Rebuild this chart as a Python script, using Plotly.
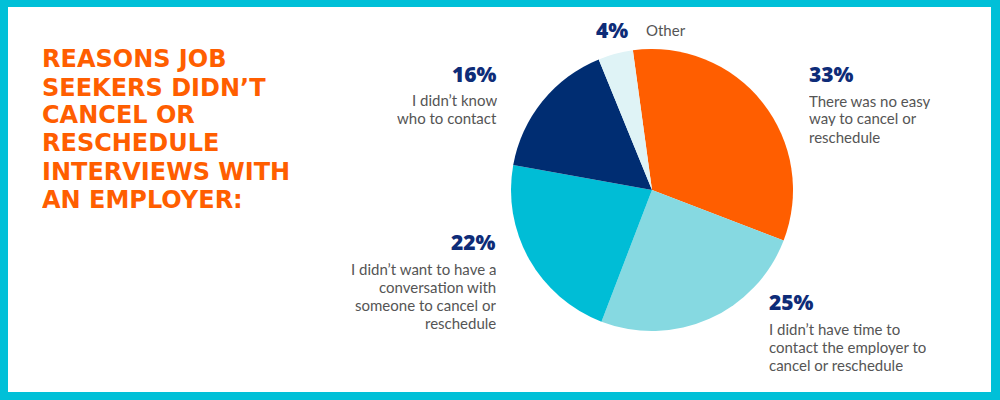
import plotly.graph_objects as go

# ---- data ----
labels = ["There was no easy way to cancel or reschedule",
          "I didn't have time to contact the employer to cancel or reschedule",
          "I didn't want to have a conversation with someone to cancel or reschedule",
          "I didn't know who to contact",
          "Other"]
values = [33, 25, 22, 16, 4]
pct_labels = ["33%", "25%", "22%", "16%", "4%"]
desc_lines = [
    ["There was no easy", "way to cancel or", "reschedule"],
    ["I didn\u2019t have time to", "contact the employer to", "cancel or reschedule"],
    ["I didn\u2019t want to have a", "conversation with", "someone to cancel or", "reschedule"],
    ["I didn\u2019t know", "who to contact"],
    ["Other"],
]
colors = ["#FF5E00", "#86D9E1", "#00BDD6", "#002D72", "#DFF3F6"]
title_lines = ["REASONS JOB", "SEEKERS DIDN\u2019T", "CANCEL OR", "RESCHEDULE",
               "INTERVIEWS WITH", "AN EMPLOYER:"]

W, H = 1000, 400
def px(x): return x / W
def py(y): return 1 - y / H

NAVY = "#0E2C78"
GRAY = "#555555"
ORANGE = "#FF5E00"
BORDER = "#00C0D8"

fig = go.Figure()
fig.add_trace(go.Pie(
    labels=labels, values=values, sort=False, direction="clockwise",
    rotation=-7.8, textinfo="none", hoverinfo="skip",
    marker=dict(colors=colors, line=dict(width=0)),
    domain=dict(x=[px(511), px(793)], y=[py(331), py(49)]),
    showlegend=False,
))

ann = []
# title
for i, t in enumerate(title_lines):
    ann.append(dict(x=px(40), y=py(59 + 28 * i), xanchor="left", yanchor="middle",
                    text=t, showarrow=False, height=27,
                    font=dict(family="DejaVu Sans", size=24, color=ORANGE, weight="bold")))

# label blocks: (pct x, pct y center, anchor, desc first line y)
blocks = [
    (807, 74, "left", 100),
    (767, 302, "left", 328),
    (498, 242, "right", 268),
    (499, 74, "right", 99),
]
for k, (x, y, anc, y0) in enumerate(blocks):
    ann.append(dict(x=px(x), y=py(y), xanchor=anc, yanchor="middle",
                    text=pct_labels[k], showarrow=False,
                    font=dict(family="Open Sans", size=21, color=NAVY, weight=800)))
    for j, line in enumerate(desc_lines[k]):
        ann.append(dict(x=px(x), y=py(y0 + 18 * j), xanchor=anc, yanchor="middle",
                        text=line, showarrow=False, height=17,
                        font=dict(family="Lato", size=15, color=GRAY)))
# Other
ann.append(dict(x=px(594), y=py(30), xanchor="left", yanchor="middle",
                text=pct_labels[4], showarrow=False,
                font=dict(family="Open Sans", size=21, color=NAVY, weight=800)))
ann.append(dict(x=px(644), y=py(30), xanchor="left", yanchor="middle",
                text=desc_lines[4][0], showarrow=False,
                font=dict(family="Lato", size=15, color=GRAY)))

fig.update_layout(
    width=W, height=H, margin=dict(l=0, r=0, t=0, b=0),
    paper_bgcolor=BORDER, plot_bgcolor="white",
    annotations=ann,
    shapes=[dict(type="rect", xref="paper", yref="paper", layer="below",
                 x0=px(8), x1=px(991), y0=py(392), y1=py(7),
                 fillcolor="white", line=dict(width=0))],
)
fig.write_html("out.html")
